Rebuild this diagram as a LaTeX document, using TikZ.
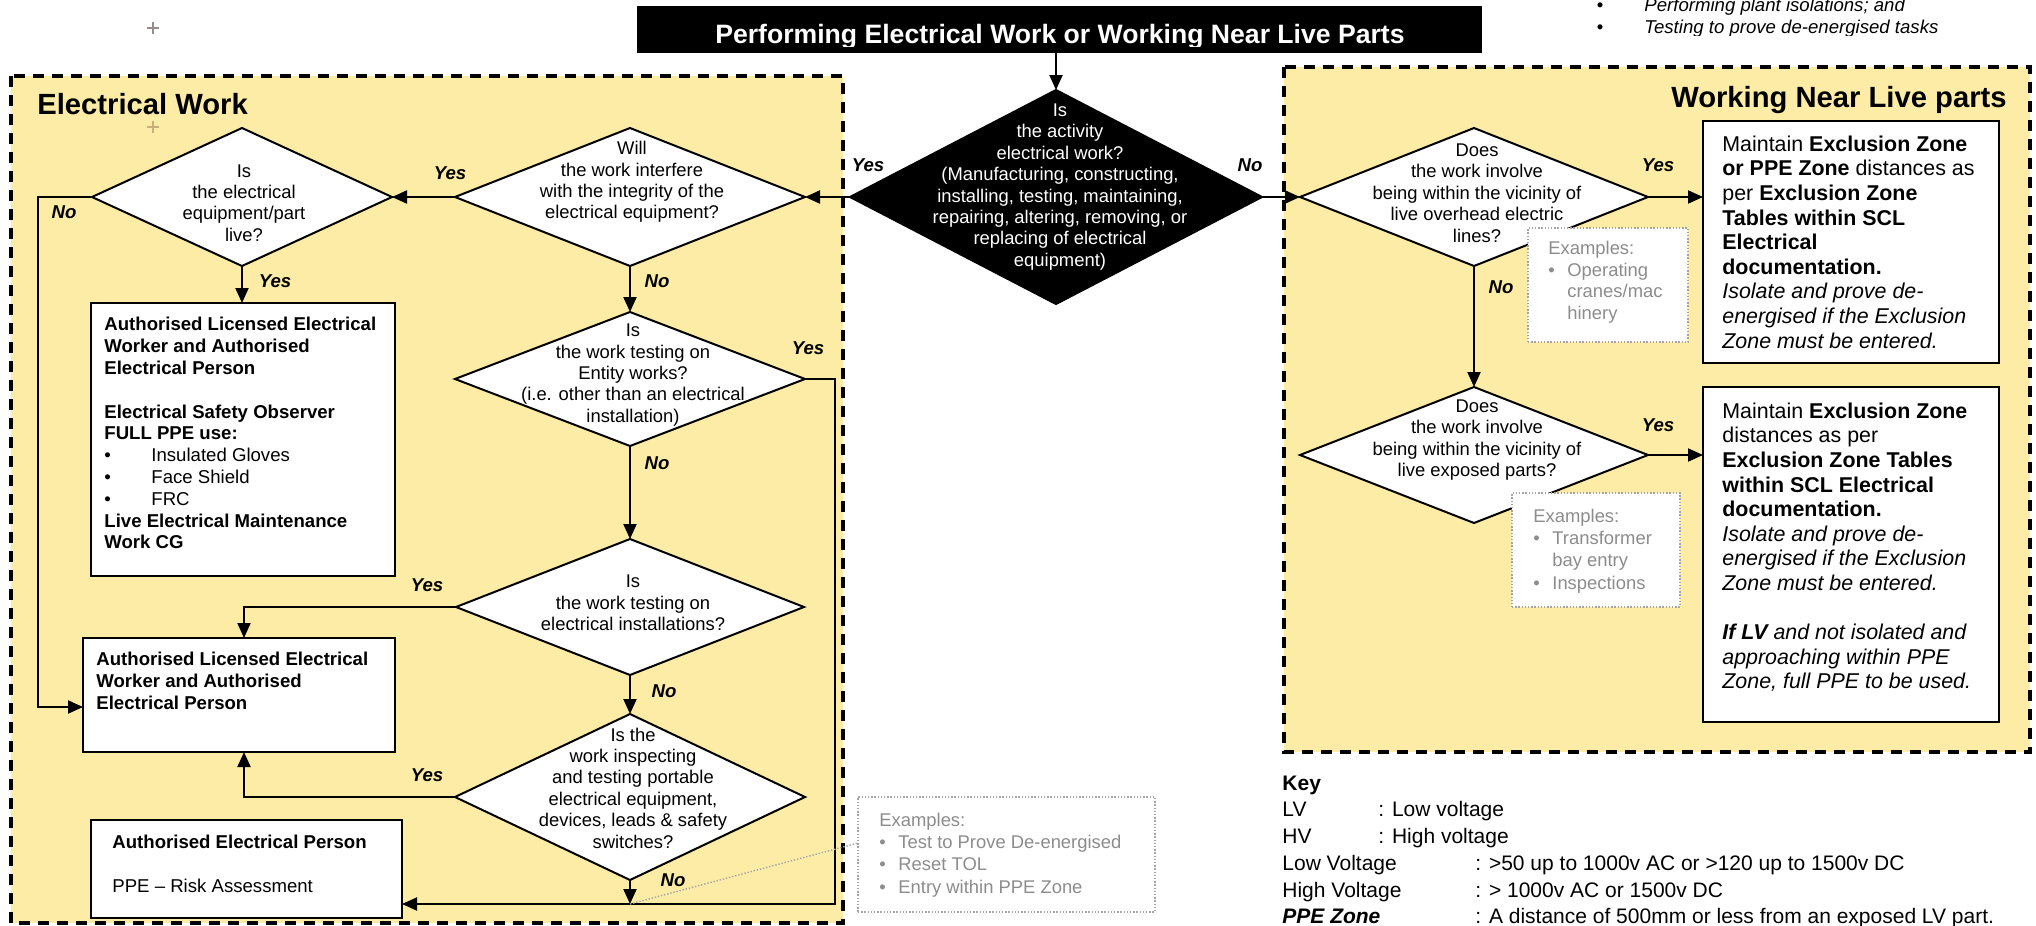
\documentclass[tikz,border=0pt]{standalone}
\usepackage{fontspec}
\setmainfont{Liberation Sans}
\usetikzlibrary{shapes.geometric,arrows.meta,calc}
\definecolor{panelfill}{RGB}{253,236,165}
\definecolor{exgrey}{RGB}{140,140,140}
\definecolor{exborder}{RGB}{165,165,165}
\definecolor{plusgrey}{RGB}{150,140,140}
\definecolor{plustan}{RGB}{200,175,120}
\begin{document}
\begin{tikzpicture}[x=0.5pt,y=-0.5pt,
  conn/.style={draw=black,line width=1pt},
  arr/.style={conn,-{Triangle[length=7.5pt,width=6.5pt]}},
  dia/.style={shape=diamond,draw=black,line width=1pt,fill=white,inner sep=0pt,outer sep=0pt},
  rbox/.style={shape=rectangle,draw=black,line width=1.3pt,fill=white,inner sep=0pt,outer sep=0pt,anchor=north west},
  exbox/.style={shape=rectangle,draw=exborder,line width=0.7pt,dash pattern=on 0.7pt off 0.9pt,fill=white,inner sep=0pt,outer sep=0pt,anchor=north west},
  dotline/.style={draw=exborder,line width=0.7pt,dash pattern=on 0.7pt off 0.9pt},
  panelbox/.style={draw=black,line width=2pt,dash pattern=on 5.5pt off 4pt,fill=panelfill},
  dtxt/.style={align=center,inner sep=0pt,font=\fontsize{9.2}{10.7}\selectfont},
  lbl/.style={inner sep=0pt,font=\fontsize{9.3}{11}\selectfont\bfseries\itshape,text height=6.7pt,text depth=0pt},
  ltxt/.style={align=left,anchor=north west,inner sep=0pt,font=\fontsize{9.3}{10.9}\selectfont},
  rtxt/.style={align=left,anchor=north west,inner sep=0pt,font=\fontsize{10.7}{12.3}\selectfont},
  extxt/.style={align=left,anchor=north west,inner sep=0pt,text=exgrey,font=\fontsize{9.2}{11.15}\selectfont},
  keytxt/.style={anchor=west,inner sep=0pt,font=\fontsize{10.5}{13}\selectfont,text height=7.5pt,text depth=0pt},
  headtxt/.style={inner sep=0pt,font=\fontsize{14.6}{17}\selectfont\bfseries},
  trtxt/.style={anchor=base west,inner sep=0pt,font=\fontsize{9.3}{11}\selectfont\itshape},
]
\useasboundingbox (0,0) rectangle (2036,926);
\fill[white] (0,0) rectangle (2036,926);

% panels
\draw[panelbox] (11,76) rectangle (843,923);
\draw[panelbox] (1284,67) rectangle (2030,752);

% plus marks
\draw[plusgrey,line width=1pt] (147,28) -- (159,28) (153,22) -- (153,34);
\draw[plustan,line width=1pt] (147,127) -- (159,127) (153,121) -- (153,133);

% title
\node[fill=black,inner sep=0pt,outer sep=0pt,minimum width=422.5pt,minimum height=23.5pt,anchor=north west] (title) at (637,6) {};
\begin{scope}
\clip (637,6) rectangle (1482,46);
\node[anchor=base,inner sep=0pt,text=white,font=\fontsize{13.3}{15}\selectfont\bfseries] (ttl) at (1060,43) {Performing Electrical Work or Working Near Live Parts};
\end{scope}

% top right text
\begin{scope}
\clip (1580,-5) rectangle (2036,35.5);
\node[anchor=base,inner sep=0pt,font=\fontsize{9.3}{11}\selectfont] (trb1) at (1600,11) {•};
\node[trtxt] (tr1) at (1644,11) {Performing plant isolations; and};
\node[anchor=base,inner sep=0pt,font=\fontsize{9.3}{11}\selectfont] (trb2) at (1600,33.3) {•};
\node[trtxt] (tr2) at (1644,33.3) {Testing to prove de-energised tasks};
\end{scope}

% headings
\node[headtxt,anchor=base west] (hEW) at (37,114) {Electrical Work};
\node[headtxt,anchor=base east] (hWN) at (2007,107) {Working Near Live parts};

% diamonds
\node[dia,fill=black,minimum width=206pt,minimum height=107pt] (q0) at (1056,197) {};
\node[dia,minimum width=175pt,minimum height=69pt] (qwill) at (630,197) {};
\node[dia,minimum width=150pt,minimum height=69pt] (qlive) at (242,197) {};
\node[dia,minimum width=175pt,minimum height=67pt] (qent) at (630,379) {};
\node[dia,minimum width=174pt,minimum height=68pt] (qinst) at (630,607) {};
\node[dia,minimum width=175pt,minimum height=83pt] (qport) at (630,797) {};
\node[dia,minimum width=174pt,minimum height=69pt] (qA) at (1474,197) {};
\node[dia,minimum width=174pt,minimum height=68pt] (qB) at (1474,455) {};

% boxes
\node[rbox,minimum width=152pt,minimum height=136.5pt] (box1) at (91,303) {};
\node[rbox,minimum width=156pt,minimum height=57pt] (box2) at (83,638) {};
\node[rbox,minimum width=155.5pt,minimum height=49pt] (box3) at (91,820) {};
\node[rbox,minimum width=148pt,minimum height=121pt] (R1) at (1703,121) {};
\node[rbox,minimum width=148pt,minimum height=167.5pt] (R2) at (1703,387) {};

% connectors
\draw[arr] (title.south -| q0.north) -- (q0.north);
\draw[arr] (q0.west) -- (qwill.east);
\draw[arr] (q0.east) -- (qA.west);
\draw[arr] (qwill.west) -- (qlive.east);
\draw[arr] (qlive.south) -- (qlive.south |- box1.north);
\coordinate (nL) at (38,707);
\draw[arr] (qlive.west) -| (nL) -- (nL -| box2.west);
\draw[arr] (qwill.south) -- (qent.north);
\coordinate (eY) at (835,904);
\draw[arr] (qent.east) -| (eY) -- (eY -| box3.east);
\draw[arr] (qent.south) -- (qinst.north);
\coordinate (bx) at (244,700);
\draw[arr] (qinst.west) -| (bx |- box2.north);
\draw[arr] (qinst.south) -- (qport.north);
\draw[arr] (qport.west) -| (bx |- box2.south);
\draw[arr] (qport.south) -- (qport.south |- eY);
\draw[arr] (qA.east) -- (qA.east -| R1.west);
\draw[arr] (qA.south) -- (qB.north);
\draw[arr] (qB.east) -- (qB.east -| R2.west);

% example boxes
\node[exbox,minimum width=80pt,minimum height=57pt] (exA) at (1528,228) {};
\node[exbox,minimum width=84pt,minimum height=57pt] (exB) at (1512,493) {};
\node[exbox,minimum width=148.5pt,minimum height=57.5pt] (exC) at (858,797) {};
\draw[dotline] (qport.south |- eY) -- ($(exC.north west)+(0,46)$);

% diamond texts
\node[dtxt,text=white] (t0) at (1060,187) {Is\\the activity\\electrical work?\\(Manufacturing, constructing,\\installing, testing, maintaining,\\repairing, altering, removing, or\\replacing of electrical\\equipment)};
\node[dtxt] (tlive) at (244,203) {Is\\the electrical\\equipment/part\\live?};
\node[dtxt] (twill) at (632,182) {Will\\the work interfere\\with the integrity of the\\electrical equipment?};
\node[dtxt] (tent) at (633,375) {Is\\the work testing on\\Entity works?\\(i.e. other than an electrical\\installation)};
\node[dtxt] (tinst) at (633,603) {Is\\the work testing on\\electrical installations?};
\node[dtxt] (tport) at (633,788) {Is the\\work inspecting\\and testing portable\\electrical equipment,\\devices, leads \& safety\\switches?};
\node[dtxt] (tA) at (1477,193) {Does\\the work involve\\being within the vicinity of\\live overhead electric\\lines?};
\node[dtxt] (tB) at (1477,440) {Does\\the work involve\\being within the vicinity of\\live exposed parts?};

% box texts
\node[ltxt] (tb1) at (104,317) {\textbf{Authorised Licensed Electrical}\\\textbf{Worker and Authorised}\\\textbf{Electrical Person}\\[10.9pt]\textbf{Electrical Safety Observer}\\\textbf{FULL PPE use:}\\\makebox[23.5pt][l]{•}Insulated Gloves\\\makebox[23.5pt][l]{•}Face Shield\\\makebox[23.5pt][l]{•}FRC\\\textbf{Live Electrical Maintenance}\\\textbf{Work CG}};
\node[ltxt] (tb2) at (96,652) {\textbf{Authorised Licensed Electrical}\\\textbf{Worker and Authorised}\\\textbf{Electrical Person}};
\node[ltxt] (tb3) at (112,834.5) {\textbf{Authorised Electrical Person}\\[11.3pt]PPE \textendash{} Risk Assessment};
\node[rtxt] (tR1) at (1722,135.4) {Maintain \textbf{Exclusion Zone}\\\textbf{or PPE Zone} distances as\\per \textbf{Exclusion Zone}\\\textbf{Tables within SCL}\\\textbf{Electrical}\\\textbf{documentation.}\\\textit{Isolate and prove de-}\\\textit{energised if the Exclusion}\\\textit{Zone must be entered.}};
\node[rtxt] (tR2) at (1722,402.4) {Maintain \textbf{Exclusion Zone}\\distances as per\\\textbf{Exclusion Zone Tables}\\\textbf{within SCL Electrical}\\\textbf{documentation.}\\\textit{Isolate and prove de-}\\\textit{energised if the Exclusion}\\\textit{Zone must be entered.}\\[12.3pt]\textit{\textbf{If LV} and not isolated and}\\\textit{approaching within PPE}\\\textit{Zone, full PPE to be used.}};

% example texts
\node[extxt,font=\fontsize{9.2}{10.85}\selectfont] (texA) at (1548,240.6) {Examples:\\\makebox[9.5pt][l]{•}Operating\\\hspace*{9.5pt}cranes/mac\\\hspace*{9.5pt}hinery};
\node[extxt] (texB) at (1533,508.6) {Examples:\\\makebox[9.5pt][l]{•}Transformer\\\hspace*{9.5pt}bay entry\\\makebox[9.5pt][l]{•}Inspections};
\node[extxt] (texC) at (879,812.6) {Examples:\\\makebox[9.5pt][l]{•}Test to Prove De-energised\\\makebox[9.5pt][l]{•}Reset TOL\\\makebox[9.5pt][l]{•}Entry within PPE Zone};

% labels
\node[lbl] (l1) at (868,165) {Yes};
\node[lbl] (l2) at (1250,165) {No};
\node[lbl] (l3) at (450,173) {Yes};
\node[lbl] (l4) at (64,212) {No};
\node[lbl] (l5) at (275,281) {Yes};
\node[lbl] (l6) at (657,281) {No};
\node[lbl] (l7) at (808,348) {Yes};
\node[lbl] (l8) at (657,463) {No};
\node[lbl] (l9) at (427,585) {Yes};
\node[lbl] (l10) at (664,691) {No};
\node[lbl] (l11) at (427,775) {Yes};
\node[lbl] (l12) at (673,880) {No};
\node[lbl] (l13) at (1658,165) {Yes};
\node[lbl] (l14) at (1501,287) {No};
\node[lbl] (l15) at (1658,425) {Yes};

% key
\node[keytxt,font=\fontsize{10.5}{13}\selectfont\bfseries] (kkey) at (1282,783) {Key};
\node[keytxt] (klv) at (1282,809) {LV};
\node[keytxt] (klvd) at (1378,809) {: Low voltage};
\node[keytxt] (khv) at (1282,836) {HV};
\node[keytxt] (khvd) at (1378,836) {: High voltage};
\node[keytxt] (klow) at (1282,863) {Low Voltage};
\node[keytxt] (klowd) at (1475,863) {: >50 up to 1000v AC or >120 up to 1500v DC};
\node[keytxt] (khigh) at (1282,890) {High Voltage};
\node[keytxt] (khighd) at (1475,890) {: > 1000v AC or 1500v DC};
\node[keytxt,font=\fontsize{10.5}{13}\selectfont\bfseries\itshape] (kppe) at (1282,916) {PPE Zone};
\node[keytxt] (kpped) at (1475,916) {: A distance of 500mm or less from an exposed LV part.};
\end{tikzpicture}
\end{document}
